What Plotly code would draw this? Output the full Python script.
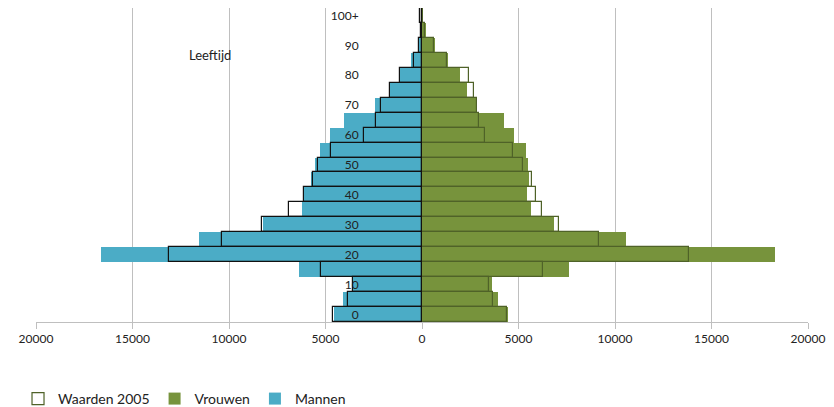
import plotly.graph_objects as go

ages = ["0", "5", "10", "15", "20", "25", "30", "35", "40", "45", "50",
        "55", "60", "65", "70", "75", "80", "85", "90", "95", "100+"]
age_ticks = ["0", "10", "20", "30", "40", "50", "60", "70", "80", "90", "100+"]

mannen = [4555, 4110, 3650, 6390, 16610, 11570, 8240, 6200, 6130, 5740, 5540,
          5270, 4750, 4040, 2450, 1640, 1120, 550, 170, 50, 20]
mannen_2005 = [4630, 3815, 3600, 5220, 13110, 10350, 8280, 6890, 6130, 5650, 5370,
               4730, 3020, 2400, 2140, 1640, 1120, 430, 150, 40, 120]
vrouwen = [4460, 3925, 3650, 7610, 18290, 10590, 6815, 5630, 5445, 5520, 5490,
           5370, 4770, 4230, 2780, 2350, 1985, 1350, 680, 190, 40]
vrouwen_2005 = [4410, 3700, 3480, 6260, 13850, 9185, 7110, 6240, 5890, 5685, 5230,
                4715, 3280, 2935, 2850, 2680, 2435, 1300, 600, 150, 50]

x_ticks = [-20000, -15000, -10000, -5000, 0, 5000, 10000, 15000, 20000]
x_labels = ["20000", "15000", "10000", "5000", "0", "5000", "10000", "15000", "20000"]

ypos = list(range(len(ages)))
FONT = "Lato, 'Open Sans', sans-serif"

fig = go.Figure()
fig.add_trace(go.Bar(y=ypos, x=vrouwen, orientation="h", name="Vrouwen",
                     marker=dict(color="#77933C", line=dict(width=0)), legendrank=2))
fig.add_trace(go.Bar(y=ypos, x=[-v for v in mannen], orientation="h", name="Mannen",
                     marker=dict(color="#4BACC6", line=dict(width=0)), legendrank=3))
fig.add_trace(go.Bar(y=ypos, x=vrouwen_2005, orientation="h", name="Waarden 2005",
                     marker=dict(color="rgba(0,0,0,0)", line=dict(color="#4F6228", width=1.2)),
                     legendrank=1))
fig.add_trace(go.Bar(y=ypos, x=[-v for v in mannen_2005], orientation="h", name="Waarden 2005 m",
                     marker=dict(color="rgba(0,0,0,0)", line=dict(color="#111111", width=1.2)),
                     showlegend=False))

fig.update_layout(
    width=834, height=407,
    margin=dict(l=36, r=26, t=8, b=85),
    paper_bgcolor="white", plot_bgcolor="white",
    barmode="overlay", bargap=0,
    font=dict(family=FONT, size=12, color="#222222"),
    showlegend=True,
    legend=dict(orientation="h", xref="container", yref="container",
                x=0.0216, xanchor="left", y=0.0197, yanchor="middle",
                font=dict(size=14), itemwidth=30, tracegroupgap=0),
    xaxis=dict(range=[-20000, 20000], tickvals=x_ticks, ticktext=x_labels,
               showgrid=True, gridcolor="#BFBFBF", gridwidth=1,
               zeroline=False, showline=True, linecolor="#BFBFBF", linewidth=1,
               ticks="outside", ticklen=6, tickcolor="#BFBFBF",
               tickfont=dict(size=12), fixedrange=True),
    yaxis=dict(range=[-0.5, 20.5], tickvals=[0, 2, 4, 6, 8, 10, 12, 14, 16, 18, 20],
               ticktext=age_ticks, showgrid=False, zeroline=False, showline=False,
               ticks="", anchor="free", position=0.418,
               tickfont=dict(size=12), fixedrange=True),
    annotations=[dict(text="Leeftijd", xref="paper", yref="paper", x=0.196, y=0.85,
                      xanchor="left", yanchor="middle", showarrow=False,
                      font=dict(size=13, color="#222222"))],
)

fig.write_html("out.html", config={"displayModeBar": False},
               post_script="document.body.style.margin='0';")
